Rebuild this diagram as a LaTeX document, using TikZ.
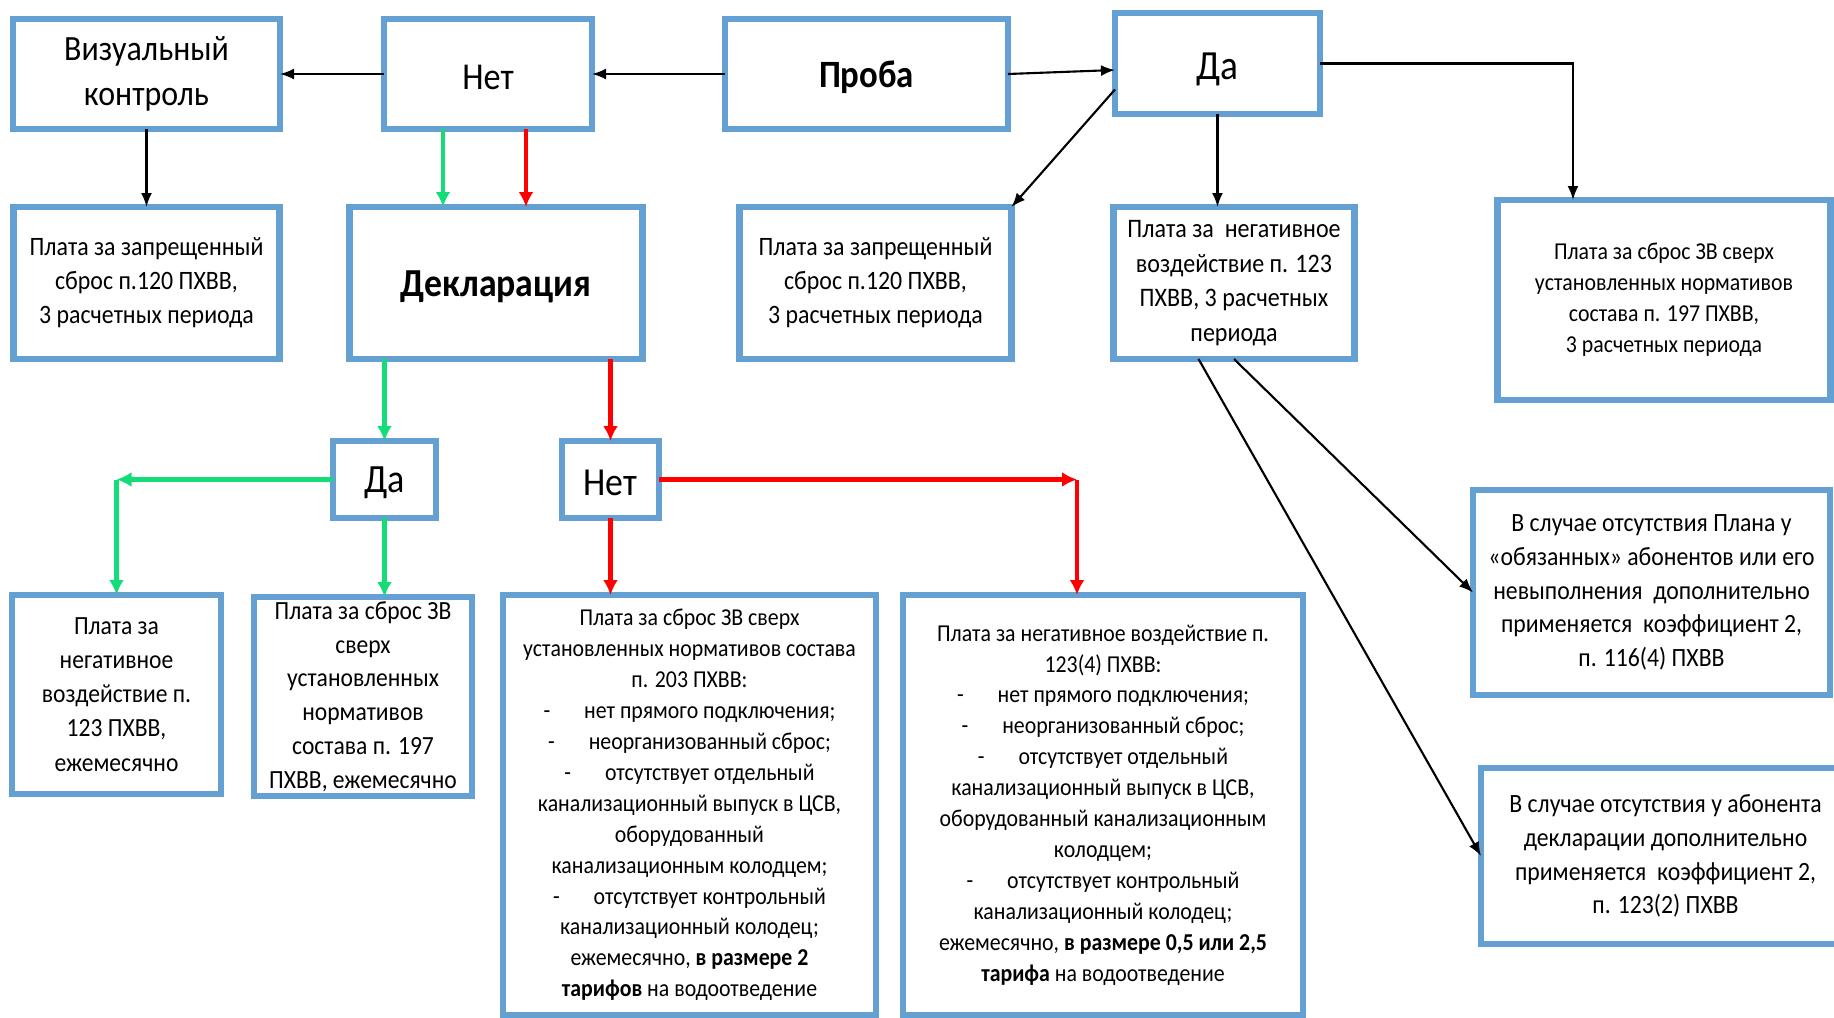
\documentclass[tikz,border=0pt]{standalone}
\usepackage{fontspec}
\setmainfont{Carlito}[FakeStretch=0.9]
\usetikzlibrary{positioning,arrows.meta}

\definecolor{boxblue}{RGB}{100,160,210}
\definecolor{yesgreen}{RGB}{20,220,120}
\definecolor{nored}{RGB}{255,0,0}

\begin{document}
\begin{tikzpicture}[x=0.1mm, y=-0.1mm,
    box/.style = {draw=boxblue, line width=1.8pt, fill=white, align=center,
                  inner sep=1pt, outer sep=0pt},
    big/.style = {font=\fontsize{10.8}{14}\selectfont},
    small/.style = {font=\fontsize{7.55}{9.7}\selectfont},
    arr/.style = {-{Latex[length=1.4mm,width=1.1mm]}, line width=0.6pt},
    yesarr/.style = {-{Latex[length=1.5mm,width=1.5mm]}, yesgreen, line width=1.3pt},
    noarr/.style = {-{Latex[length=1.5mm,width=1.5mm]}, nored, line width=1.3pt}]

  \clip (0,0) rectangle (1834,1018);
  \fill[white] (0,0) rectangle (1834,1018);

  % top row
  \node[box, minimum width=26.7mm, minimum height=11mm,
        font=\fontsize{10.1}{12.8}\selectfont] (viz) at (146.5,74) {Визуальный\\контроль};
  \node[box, big, right=10.4mm of viz, minimum width=20.8mm, minimum height=11mm,
        text height=9pt, text depth=0pt] (netTop) {Нет};
  \node[box, right=13.3mm of netTop, minimum width=28.3mm, minimum height=11mm,
        text height=9.8pt, text depth=2.2pt,
        font=\bfseries\fontsize{11}{14}\selectfont] (proba) {Проба};
  \node[box, right=10.7mm of proba, yshift=1.05mm, minimum width=20.5mm,
        minimum height=10.1mm, text height=11pt, text depth=2pt,
        font=\fontsize{11.8}{14}\selectfont] (daTop) {Да};

  % second row
  \node[box, small, below=7.8mm of viz, minimum width=26.6mm, minimum height=15.2mm] (plataViz)
    {Плата за запрещенный\\сброс п.120 ПХВВ,\\3 расчетных периода};
  \node[box, right=7mm of plataViz, minimum width=29.3mm, minimum height=15.2mm,
        text height=9.9pt, text depth=2.4pt,
        font=\bfseries\fontsize{11.3}{15}\selectfont] (decl) {Декларация};
  \node[box, small, right=9.7mm of decl, minimum width=27.2mm, minimum height=15.2mm] (plataProba)
    {Плата за запрещенный\\сброс п.120 ПХВВ,\\3 расчетных периода};
  \node[box, right=10.2mm of plataProba, minimum width=24.1mm, minimum height=15.2mm,
        font=\fontsize{7.6}{9.8}\selectfont] (plataNeg)
    {Плата за \ негативное\\воздействие п. 123\\ПХВВ, 3 расчетных\\периода};
  \node[box, right=14.3mm of plataNeg, yshift=-1.7mm, minimum width=33.3mm, minimum height=20mm,
        font=\fontsize{6.9}{8.8}\selectfont] (plataSbros)
    {Плата за сброс ЗВ сверх\\установленных нормативов\\состава п. 197 ПХВВ,\\3 расчетных периода};

  % declaration answers
  \node[box, minimum width=10.3mm, minimum height=7.7mm, text height=9.3pt, text depth=2pt,
        font=\fontsize{11.4}{14}\selectfont] (daMid) at (384.5,479.5) {Да};
  \node[box, right=12.6mm of daMid, minimum width=9.7mm, minimum height=7.7mm,
        text height=9pt, text depth=0pt,
        font=\fontsize{11.3}{14}\selectfont] (netMid) {Нет};

  % bottom row
  \node[box, minimum width=20.9mm, minimum height=19.9mm,
        font=\fontsize{7.45}{9.7}\selectfont] (negMonth) at (116.5,694.5)
    {Плата за\\негативное\\воздействие п.\\123 ПХВВ,\\ежемесячно};
  \node[box, right=3.3mm of negMonth, yshift=-0.2mm, minimum width=21.8mm, minimum height=19.9mm,
        inner sep=0pt, font=\fontsize{7.45}{9.6}\selectfont] (sbrosMonth)
    {Плата за сброс ЗВ\\сверх\\установленных\\нормативов\\состава п. 197\\ПХВВ, ежемесячно};
  \node[box, anchor=north, minimum width=37.3mm, minimum height=42mm,
        font=\fontsize{6.9}{8.8}\selectfont] (sbrosList) at (689.5,595)
    {Плата за сброс ЗВ сверх\\установленных нормативов состава\\п. 203 ПХВВ:\\
     -\hspace{1.4em}нет прямого подключения;\\
     -\hspace{1.4em}неорганизованный сброс;\\
     -\hspace{1.4em}отсутствует отдельный\\
     канализационный выпуск в ЦСВ,\\оборудованный\\канализационным колодцем;\\
     -\hspace{1.4em}отсутствует контрольный\\канализационный колодец;\\
     ежемесячно, \textbf{в размере 2}\\\textbf{тарифов} на водоотведение};
  \node[box, right=2.7mm of sbrosList, minimum width=40mm, minimum height=42mm,
        font=\fontsize{6.9}{8.8}\selectfont] (negList)
    {Плата за негативное воздействие п.\\123(4) ПХВВ:\\
     -\hspace{1.4em}нет прямого подключения;\\
     -\hspace{1.4em}неорганизованный сброс;\\
     -\hspace{1.4em}отсутствует отдельный\\
     канализационный выпуск в ЦСВ,\\оборудованный канализационным\\колодцем;\\
     -\hspace{1.4em}отсутствует контрольный\\канализационный колодец;\\
     ежемесячно, \textbf{в размере 0,5 или 2,5}\\\textbf{тарифа} на водоотведение};

  % right column
  \node[box, minimum width=35.7mm, minimum height=20.5mm,
        font=\fontsize{7.5}{9.6}\selectfont] (planCase) at (1651.5,592.5)
    {В случае отсутствия Плана у\\«обязанных» абонентов или его\\невыполнения \ дополнительно\\применяется \ коэффициент 2,\\п. 116(4) ПХВВ};
  \node[box, minimum width=36.9mm, minimum height=17.6mm,
        font=\fontsize{7.5}{9.6}\selectfont] (declCase) at (1665.5,856)
    {В случае отсутствия у абонента\\декларации дополнительно\\применяется \ коэффициент 2,\\п. 123(2) ПХВВ};

  \coordinate (sbrosIn) at (1573,300);
  \coordinate (yesCorner) at (negMonth |- daMid);
  \coordinate (noCorner) at (1077,479.5);

  % black connectors
  \draw[arr] (netTop) -- (viz);
  \draw[arr] (proba) -- (netTop);
  \draw[arr] (proba.east) -- ([yshift=-0.65mm]daTop.west);
  \draw[arr] (viz) -- (plataViz);
  \draw[arr] ([yshift=-2.6mm]daTop.west) -- (plataProba.north east);
  \draw[arr] (daTop) -- (daTop.south |- plataNeg.north);
  \draw[arr] (daTop.east) -| (sbrosIn |- plataSbros.north);
  \draw[arr] (plataNeg.south) -- (planCase.west);
  \draw[arr] ([xshift=-3.55mm]plataNeg.south) -- (declCase.west);

  % green and red connectors
  \draw[yesarr] ([xshift=-4.5mm]netTop.south) -- ([xshift=-4.5mm]netTop.south |- decl.north);
  \draw[noarr] ([xshift=3.8mm]netTop.south) -- ([xshift=3.8mm]netTop.south |- decl.north);
  \draw[yesarr] (decl.south -| daMid) -- (daMid);
  \draw[noarr] (decl.south -| netMid) -- (netMid);
  \draw[yesarr] (daMid) -- (yesCorner);
  \draw[yesarr] (yesCorner) -- (negMonth);
  \draw[yesarr] (daMid) -- (daMid |- sbrosMonth.north);
  \draw[noarr] (netMid) -- (netMid |- sbrosList.north);
  \draw[noarr] (netMid) -- (noCorner);
  \draw[noarr] (noCorner) -- (noCorner |- negList.north);
\end{tikzpicture}
\end{document}
